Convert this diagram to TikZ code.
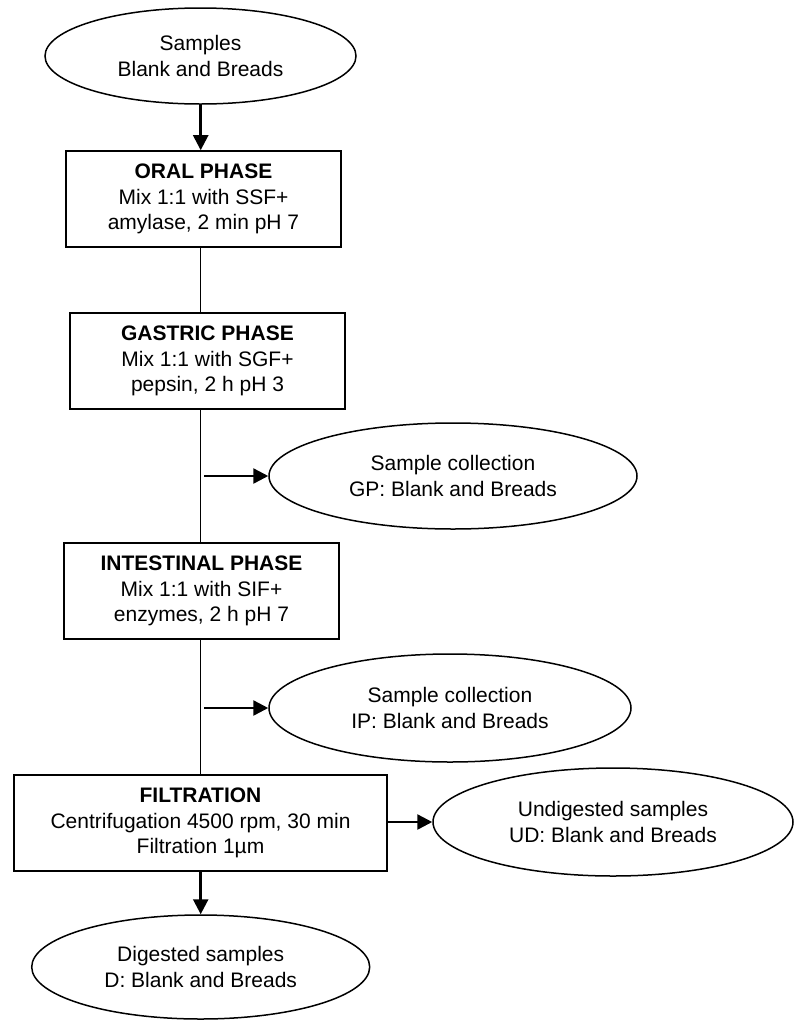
\documentclass[tikz,border=0pt]{standalone}
\usepackage{fontspec}
\setmainfont{Liberation Sans}
\usetikzlibrary{shapes.geometric,arrows.meta}
\begin{document}
\begin{tikzpicture}[x=1pt,y=-1pt,
  every node/.style={font=\fontsize{21}{25.5}\selectfont, align=center, inner sep=0pt},
  phasebox/.style={draw, line width=1.6pt, rectangle, minimum height=96pt},
  oval/.style={draw, line width=1.5pt, ellipse},
  link/.style={line width=1.3pt},
  flow/.style={line width=2.5pt, -{Triangle[length=15pt,width=15pt]}}
]
\useasboundingbox (0,0) rectangle (795,1021);
\coordinate (spine) at (200.7,0);

\node[oval, minimum width=311pt, minimum height=96pt] (src) at (200.5,56) {Samples\\Blank and Breads};
\node[phasebox, minimum width=275pt] (oral) at (203.5,199) {\textbf{ORAL PHASE}\\Mix 1:1 with SSF+\\amylase, 2 min pH 7};
\node[phasebox, minimum width=275pt] (gastric) at (207.5,361) {\textbf{GASTRIC PHASE}\\Mix 1:1 with SGF+\\pepsin, 2 h pH 3};
\node[oval, minimum width=368pt, minimum height=106pt] (gp) at (453,476) {Sample collection\\GP: Blank and Breads};
\node[phasebox, minimum width=275pt] (intestinal) at (201.5,591) {\textbf{INTESTINAL PHASE}\\Mix 1:1 with SIF+\\enzymes, 2 h pH 7};
\node[oval, minimum width=362pt, minimum height=108pt] (ip) at (450,708) {Sample collection\\IP: Blank and Breads};
\node[phasebox, minimum width=373pt] (filt) at (200.5,823) {\textbf{FILTRATION}\\Centrifugation 4500 rpm, 30 min\\Filtration 1\textmu m};
\node[oval, minimum width=360pt, minimum height=108pt] (ud) at (613,822) {Undigested samples\\UD: Blank and Breads};
\node[oval, minimum width=338pt, minimum height=104pt] (dig) at (200.7,967) {Digested samples\\D: Blank and Breads};

\coordinate (gpfrom) at (204,476);
\coordinate (ipfrom) at (204,708);

\draw[flow] (src.south -| spine) -- (oral.north -| spine);
\draw[link] (oral.south -| spine) -- (gastric.north -| spine);
\draw[link] (gastric.south -| spine) -- (intestinal.north -| spine);
\draw[link] (intestinal.south -| spine) -- (filt.north -| spine);
\draw[flow] (gpfrom) -- (gp.west);
\draw[flow] (ipfrom) -- (ip.west);
\draw[flow] (filt.east |- ud.west) -- (ud.west);
\draw[flow] (filt.south -| spine) -- (dig.north);
\end{tikzpicture}
\end{document}
